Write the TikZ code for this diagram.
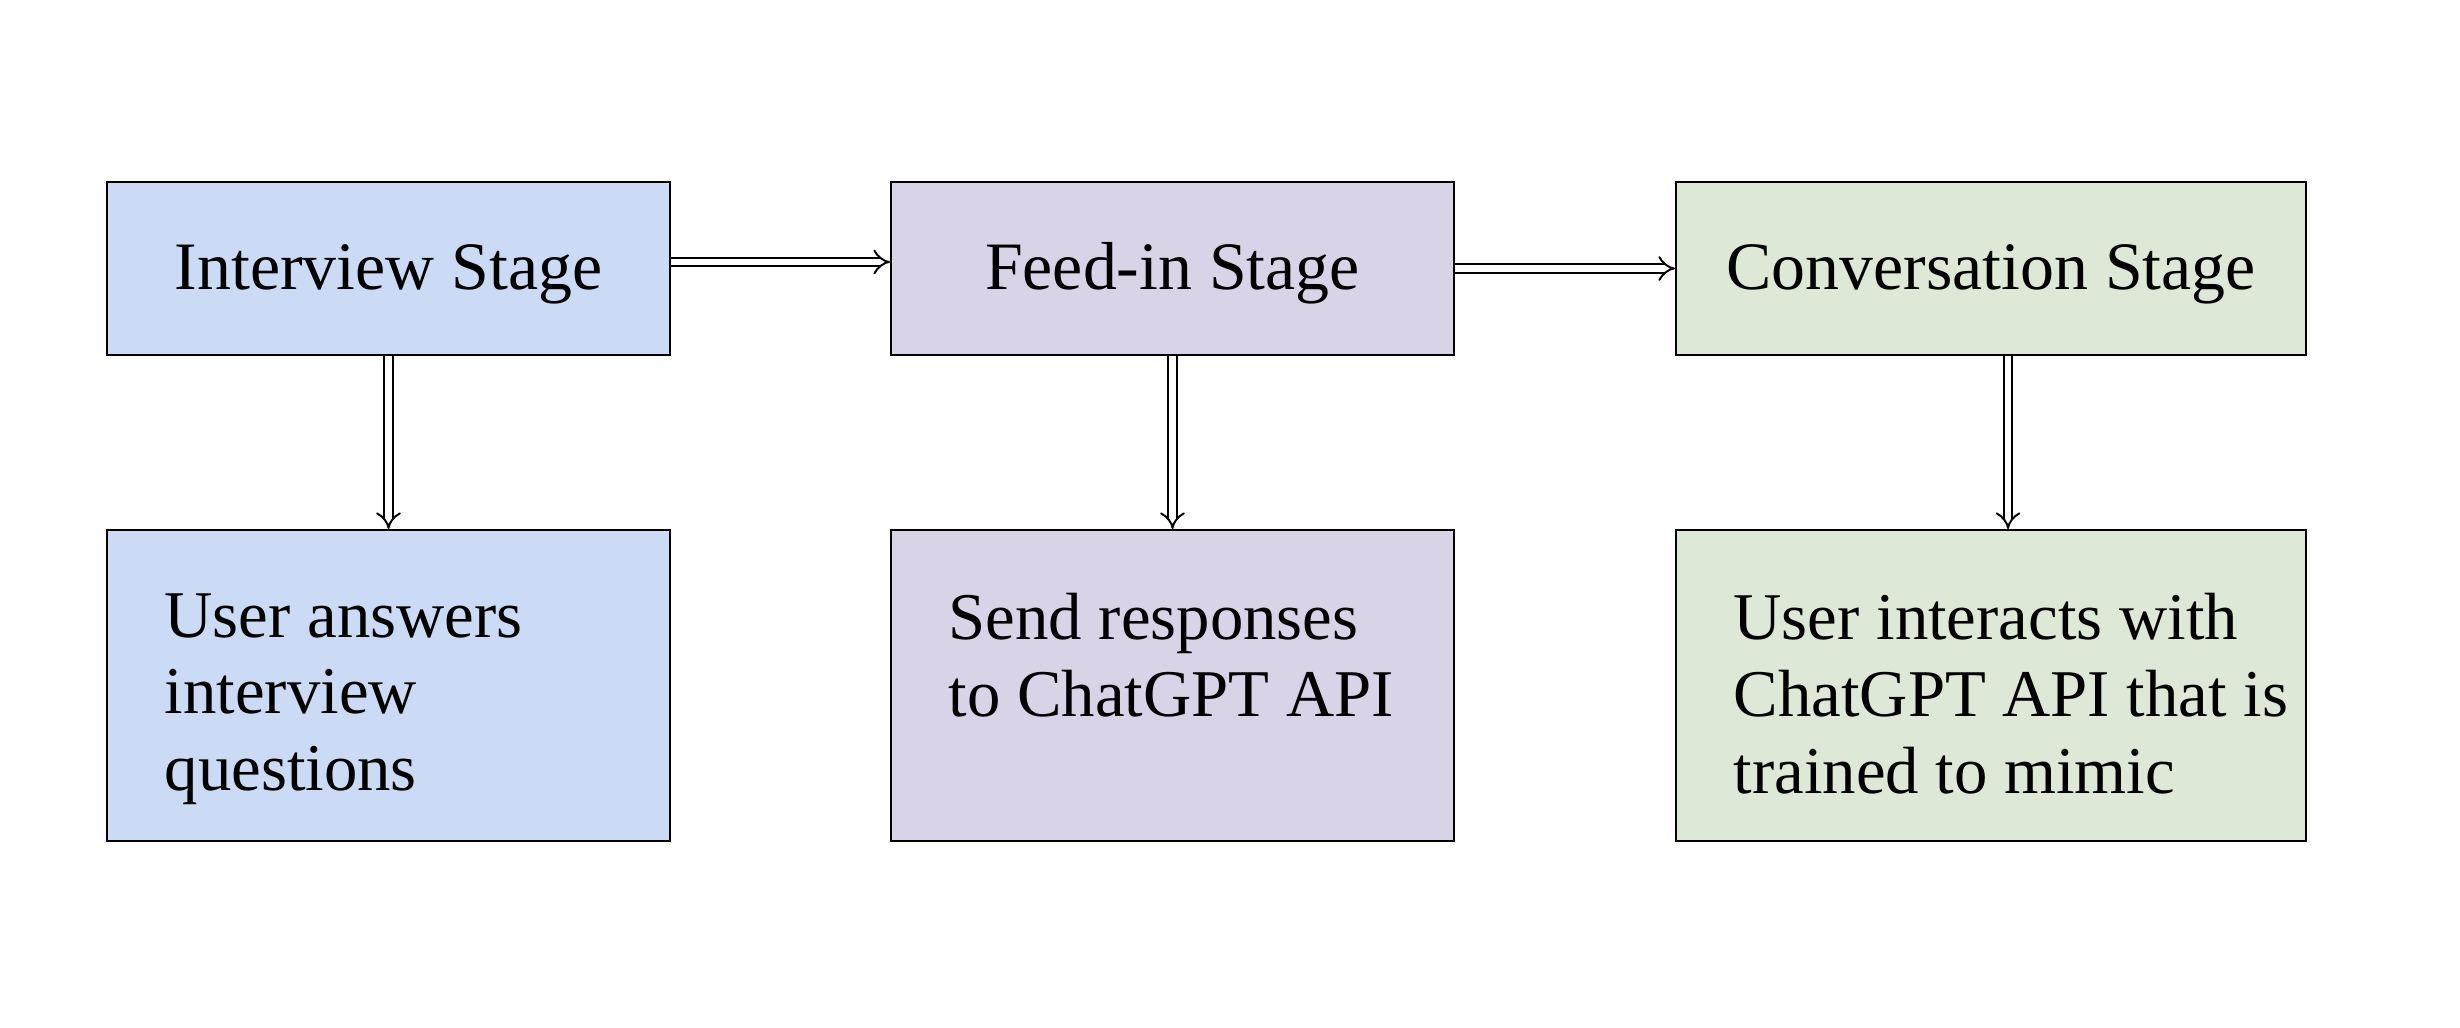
\documentclass[tikz,border=0pt]{standalone}
\usepackage{fontspec}
\setmainfont{Liberation Serif}
\usetikzlibrary{arrows.meta}
\definecolor{stageblue}{RGB}{204,219,245}
\definecolor{stagepurple}{RGB}{217,211,232}
\definecolor{stagegreen}{RGB}{221,233,214}
\tikzset{
    stagebox/.style={draw, line width=0.6pt, minimum height=1.73cm, inner sep=0pt,
        text height=0.56cm, text depth=0.145cm, font=\fontsize{19.3}{22}\selectfont},
    taskbox/.style={draw, line width=0.6pt, minimum height=3.11cm, inner sep=0pt},
    tasktext/.style={anchor=north west, inner sep=0pt, align=left,
        font=\fontsize{19}{21.8}\selectfont},
    flow/.style={double, double distance=1.9pt, line width=0.55pt, -{Implies[scale=1.45]}}
}
\begin{document}
\begin{tikzpicture}
        \useasboundingbox (0, 0) rectangle (24.6, 10.28);
        \node[stagebox, fill=stageblue, minimum width=5.63cm] (interview) at (3.885, 7.595) {Interview Stage};
        \node[stagebox, fill=stagepurple, minimum width=5.63cm] (feedin) at (11.725, 7.595) {Feed-in Stage};
        \node[stagebox, fill=stagegreen, minimum width=6.30cm] (conversation) at (19.91, 7.595) {Conversation Stage};
        \node[taskbox, fill=stageblue, minimum width=5.63cm] (answers) at (3.885, 3.425) {};
        \node[taskbox, fill=stagepurple, minimum width=5.63cm] (send) at (11.725, 3.425) {};
        \node[taskbox, fill=stagegreen, minimum width=6.30cm] (interacts) at (19.91, 3.425) {};
        \node[tasktext] (answerstext) at ([xshift=0.58cm, yshift=-0.64cm]answers.north west) {User answers\\interview\\questions};
        \node[tasktext] (sendtext) at ([xshift=0.58cm, yshift=-0.64cm]send.north west) {Send responses\\to ChatGPT API};
        \node[tasktext] (interactstext) at ([xshift=0.58cm, yshift=-0.64cm]interacts.north west) {User interacts with\\ChatGPT API that is\\trained to mimic};
        \draw[flow] ([yshift=0.65mm]interview.east) -- ([yshift=0.65mm]feedin.west);
        \draw[flow] (feedin.east) -- (conversation.west);
        \draw[flow] (interview.south) -- (answers.north);
        \draw[flow] (feedin.south) -- (send.north);
        \draw[flow] ([xshift=1.7mm]conversation.south) -- ([xshift=1.7mm]interacts.north);
    \end{tikzpicture}
\end{document}
